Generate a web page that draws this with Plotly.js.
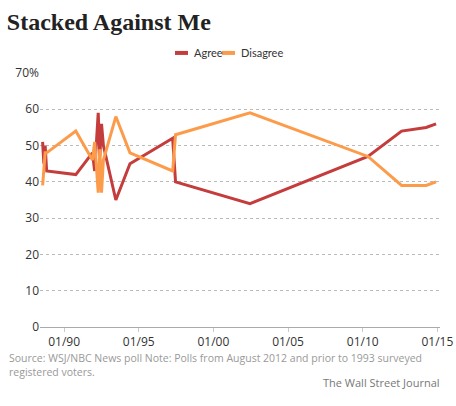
<!DOCTYPE html>
<html>
<head>
<meta charset="utf-8">
<script src="https://cdn.plot.ly/plotly-3.0.1.min.js"></script>
<style>
  html, body { margin: 0; padding: 0; background: #fff; }
  #chart { width: 456px; height: 406px; }
</style>
</head>
<body>
<div id="chart"></div>
<script>
const pollDates = [
  '1988-07-25', '1988-08-25', '1988-09-25', '1988-11-01',
  '1990-10-15', '1991-11-25', '1992-01-20', '1992-04-15',
  '1992-05-25', '1992-07-05', '1992-08-20', '1993-06-20',
  '1994-06-01', '1997-04-10', '1997-06-20', '2002-06-15',
  '2010-05-10', '2012-08-10', '2014-04-01', '2014-12-01'
];
const agree = [51, 45, 50, 43, 42, 48, 43, 59, 47, 56, 50, 35, 45, 52, 40, 34, 47, 54, 55, 56];
const disagree = [39, 45, 48, 48, 54, 46, 51, 37, 49, 37, 46, 58, 48, 43, 53, 59, 47, 39, 39, 40];

const seriesNames = ['Agree', 'Disagree'];
const seriesColors = ['#c43d3c', '#fc9c4b'];

const yTickVals = [0, 10, 20, 30, 40, 50, 60, 70];
const yTickText = ['0', '10', '20', '30', '40', '50', '60', '70%'];
const xTickVals = ['1990-01-01', '1995-01-01', '2000-01-01', '2005-01-01', '2010-01-01', '2015-01-01'];
const xTickText = ['01/90', '01/95', '01/00', '01/05', '01/10', '01/15'];

const traces = [
  { x: pollDates, y: agree, name: seriesNames[0], type: 'scatter', mode: 'lines',
    line: { color: seriesColors[0], width: 3 } },
  { x: pollDates, y: disagree, name: seriesNames[1], type: 'scatter', mode: 'lines',
    line: { color: seriesColors[1], width: 3 } }
];

// custom compact legend (short swatches)
const legY = 1.079;
const legendItems = [
  { x0: 0.3375, x1: 0.37, tx: 0.379 },
  { x0: 0.455, x1: 0.4875, tx: 0.497 }
];
const shapes = legendItems.map((it, i) => ({
  type: 'line', xref: 'paper', yref: 'paper', x0: it.x0, x1: it.x1, y0: legY, y1: legY,
  line: { color: seriesColors[i], width: 4 }
}));
const legendAnnots = legendItems.map((it, i) => ({
  text: seriesNames[i], xref: 'paper', yref: 'paper', x: it.tx, xanchor: 'left',
  y: legY, yanchor: 'middle', showarrow: false,
  font: { family: 'Lato, sans-serif', size: 11, color: '#333' }
}));

const layout = {
  width: 456, height: 406,
  margin: { l: 40, r: 16, t: 73, b: 79 },
  paper_bgcolor: '#fff', plot_bgcolor: '#fff',
  font: { family: 'Open Sans, sans-serif', color: '#333', size: 12 },
  title: { text: 'Stacked Against Me', x: 0.015, xanchor: 'left', y: 0.947, yanchor: 'middle',
    font: { family: 'Liberation Serif, serif', size: 24, color: '#222', weight: 'bold' } },
  showlegend: false,
  xaxis: {
    type: 'date', range: ['1988-05-22', '2015-03-07'],
    tickvals: xTickVals, ticktext: xTickText,
    showgrid: false, zeroline: false, showline: false,
    ticks: 'outside', ticklen: 4, tickcolor: '#ccc',
    tickfont: { size: 12, color: '#333' }, fixedrange: true
  },
  yaxis: {
    range: [0, 70], tickvals: yTickVals, ticktext: yTickText,
    showgrid: true, gridcolor: '#bbb', griddash: 'dot', gridwidth: 1,
    zeroline: true, zerolinecolor: '#aaa', zerolinewidth: 1,
    showline: false, ticks: '', tickfont: { size: 12, color: '#333' },
    fixedrange: true
  },
  shapes: shapes,
  annotations: legendAnnots.concat([
    { text: 'Source: WSJ/NBC News poll Note: Polls from August 2012 and prior to 1993 surveyed<br>registered voters.',
      xref: 'paper', yref: 'paper', x: -0.0825, xanchor: 'left', y: -0.088, yanchor: 'top',
      showarrow: false, align: 'left', font: { size: 10.5, color: '#999' } },
    { text: 'The Wall Street Journal', xref: 'paper', yref: 'paper', x: 1.005, xanchor: 'right',
      y: -0.18, yanchor: 'top', showarrow: false, font: { size: 11, color: '#777' } }
  ])
};

Plotly.newPlot('chart', traces, layout, { displayModeBar: false, staticPlot: true });
</script>
</body>
</html>
